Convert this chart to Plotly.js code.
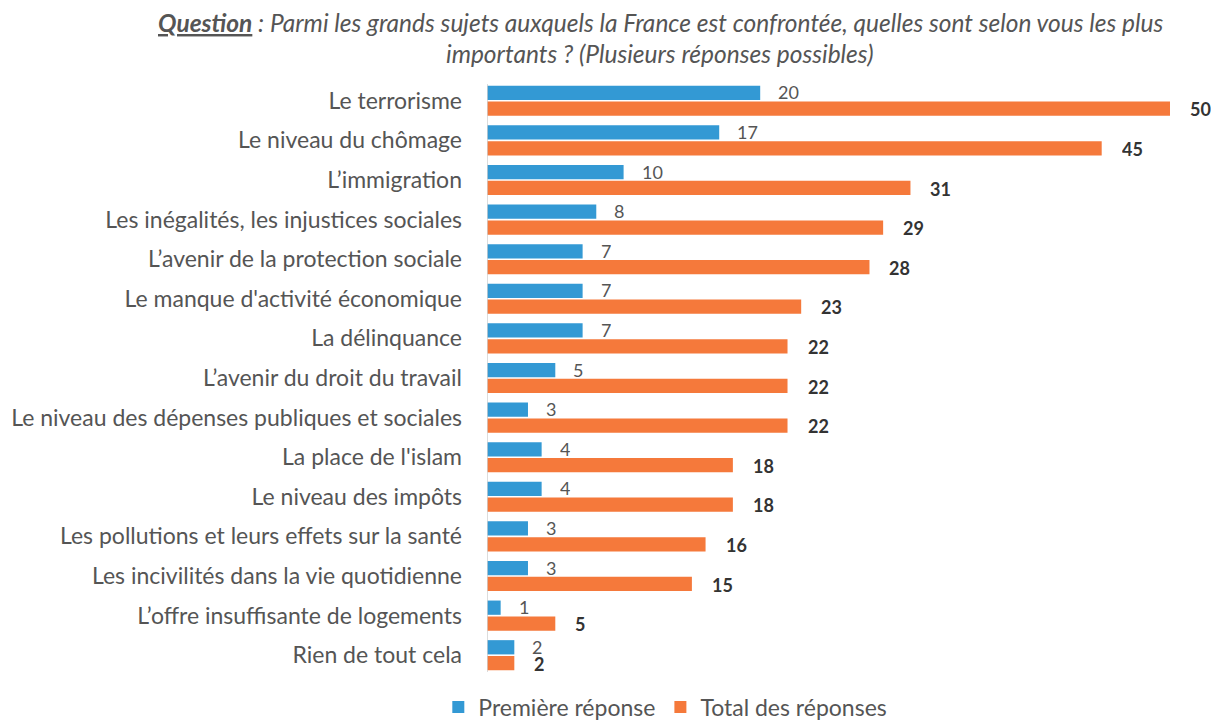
<!DOCTYPE html>
<html>
<head>
<meta charset="utf-8">
<script src="https://cdn.plot.ly/plotly-3.0.1.min.js"></script>
<style>html,body{margin:0;padding:0;background:#fff;}#chart{width:1223px;height:720px;}</style>
</head>
<body>
<div id="chart"></div>
<script>
const categories = [
  "Le terrorisme",
  "Le niveau du chômage",
  "L\u2019immigration",
  "Les inégalités, les injustices sociales",
  "L\u2019avenir de la protection sociale",
  "Le manque d'activité économique",
  "La délinquance",
  "L\u2019avenir du droit du travail",
  "Le niveau des dépenses publiques et sociales",
  "La place de l'islam",
  "Le niveau des impôts",
  "Les pollutions et leurs effets sur la santé",
  "Les incivilités dans la vie quotidienne",
  "L\u2019offre insuffisante de logements",
  "Rien de tout cela"
];
const premiere = [20, 17, 10, 8, 7, 7, 7, 5, 3, 4, 4, 3, 3, 1, 2];
const total = [50, 45, 31, 29, 28, 23, 22, 22, 22, 18, 18, 16, 15, 5, 2];
const seriesNames = ["Première réponse", "Total des réponses"];
const titleLines = [
  "<b><u>Question</u></b> : Parmi les grands sujets auxquels la France est confrontée, quelles sont selon vous les plus",
  "importants ? (Plusieurs réponses possibles)"
];

const BLUE = "#3399d4";
const ORANGE = "#f5793b";
const TXT = "#555555";
const FONT = "Lato, 'Open Sans', sans-serif";

const traces = [
  {type: "bar", orientation: "h", name: seriesNames[0], y: categories, x: premiere,
   marker: {color: BLUE}, hoverinfo: "x"},
  {type: "bar", orientation: "h", name: seriesNames[1], y: categories, x: total,
   marker: {color: ORANGE}, hoverinfo: "x"}
];

const annotations = [];
categories.forEach((c, i) => {
  annotations.push({x: premiere[i], y: c, xref: "x", yref: "y", text: String(premiere[i]),
    showarrow: false, xanchor: "left", xshift: 17, yshift: 8.5, borderpad: 0, height: 16,
    font: {family: FONT, size: 18, color: TXT}});
  annotations.push({x: total[i], y: c, xref: "x", yref: "y", text: "<b>" + total[i] + "</b>",
    showarrow: false, xanchor: "left", xshift: 19, yshift: -8.5, borderpad: 0, height: 16,
    font: {family: FONT, size: 18, color: "#333333"}});
});
titleLines.forEach((t, i) => {
  annotations.push({xref: "paper", yref: "paper", x: 0.2535, y: 1 + (59 - 31 * i) / 594,
    xanchor: "center", yanchor: "middle", text: t, showarrow: false,
    font: {family: FONT, size: 24.5, color: TXT, style: "italic"}});
});

const layout = {
  width: 1223, height: 720,
  paper_bgcolor: "#ffffff", plot_bgcolor: "#ffffff",
  margin: {l: 487, r: 53, t: 81, b: 45},
  barmode: "group", bargap: 0.2, bargroupgap: 0.1,
  xaxis: {range: [0, 50], visible: false, fixedrange: true},
  yaxis: {autorange: "reversed", type: "category", showgrid: false, zeroline: false,
    showline: false, ticks: "", ticklabelstandoff: 24,
    tickfont: {family: FONT, size: 23, color: TXT}},
  shapes: [{type: "line", xref: "x", yref: "paper", x0: 0, x1: 0, y0: 0.005, y1: 0.995,
    line: {color: "#d0d0d0", width: 1.5}}],
  showlegend: true,
  legend: {orientation: "h", xref: "container", x: 0.544, xanchor: "center",
    yref: "container", y: 0.018, yanchor: "middle",
    font: {family: FONT, size: 23, color: TXT}, itemwidth: 30, traceorder: "normal"},
  annotations: annotations
};

Plotly.newPlot("chart", traces, layout, {displayModeBar: false, staticPlot: true});
</script>
</body>
</html>
